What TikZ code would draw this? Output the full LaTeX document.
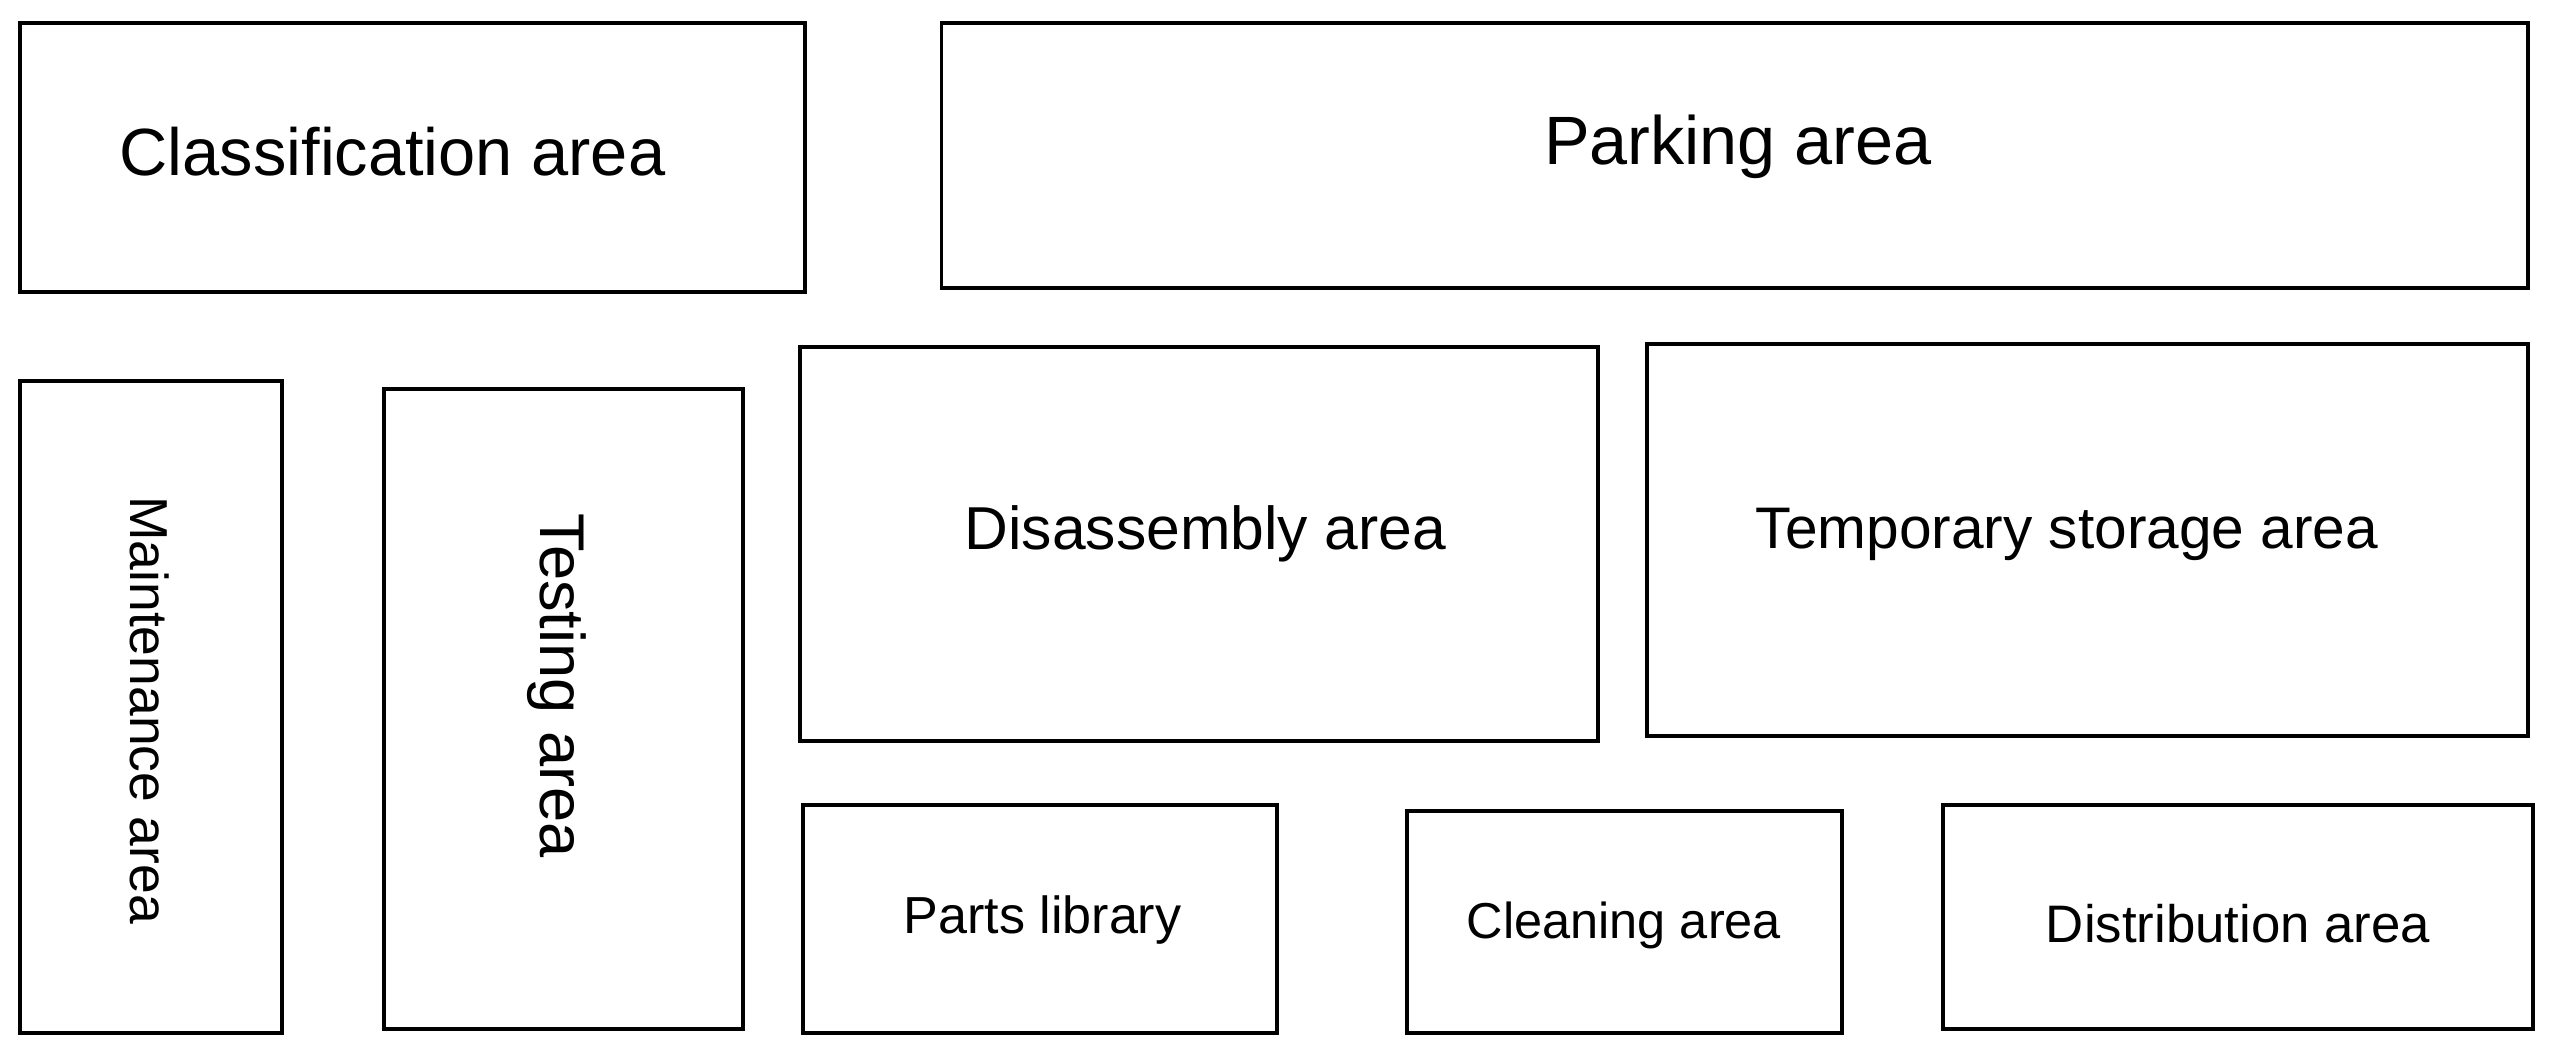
\documentclass[tikz,border=0pt]{standalone}
\usepackage{fontspec}
\setmainfont{Liberation Sans}
\begin{document}
\begin{tikzpicture}[x=0.5pt,y=-0.5pt,area/.style={draw,line width=1.2pt}]
\useasboundingbox[fill=white] (0,0) rectangle (1568,651);
\draw[area] (12,14) rectangle (494,179);
\node (cl) at (241,93) {\fontsize{20.5}{22}\selectfont Classification area};
\draw[area] (578,14) rectangle (1552,177);
\node (pk) at (1067,90) {\fontsize{21}{23}\selectfont Parking area};
\draw[area] (12,234) rectangle (173,634);
\node[rotate=-90] (mt) at (92,436) {\fontsize{16.4}{18}\selectfont Maintenance area};
\draw[area] (236,239) rectangle (456,632);
\node[rotate=-90] (ts) at (342,421) {\fontsize{19.4}{21}\selectfont Testing area};
\draw[area] (491,213) rectangle (981,455);
\node (ds) at (740,328) {\fontsize{18.6}{21}\selectfont Disassembly area};
\draw[area] (1011,211) rectangle (1552,452);
\node (tp) at (1269,328) {\fontsize{18}{20}\selectfont Temporary storage area};
\draw[area] (493,494) rectangle (784,634);
\node (pl) at (640,565) {\fontsize{16}{18}\selectfont Parts library};
\draw[area] (864,498) rectangle (1131,634);
\node (cn) at (997,568) {\fontsize{15.5}{18}\selectfont Cleaning area};
\draw[area] (1193,494) rectangle (1555,632);
\node (db) at (1374,567) {\fontsize{16.2}{18}\selectfont Distribution area};
\end{tikzpicture}
\end{document}
